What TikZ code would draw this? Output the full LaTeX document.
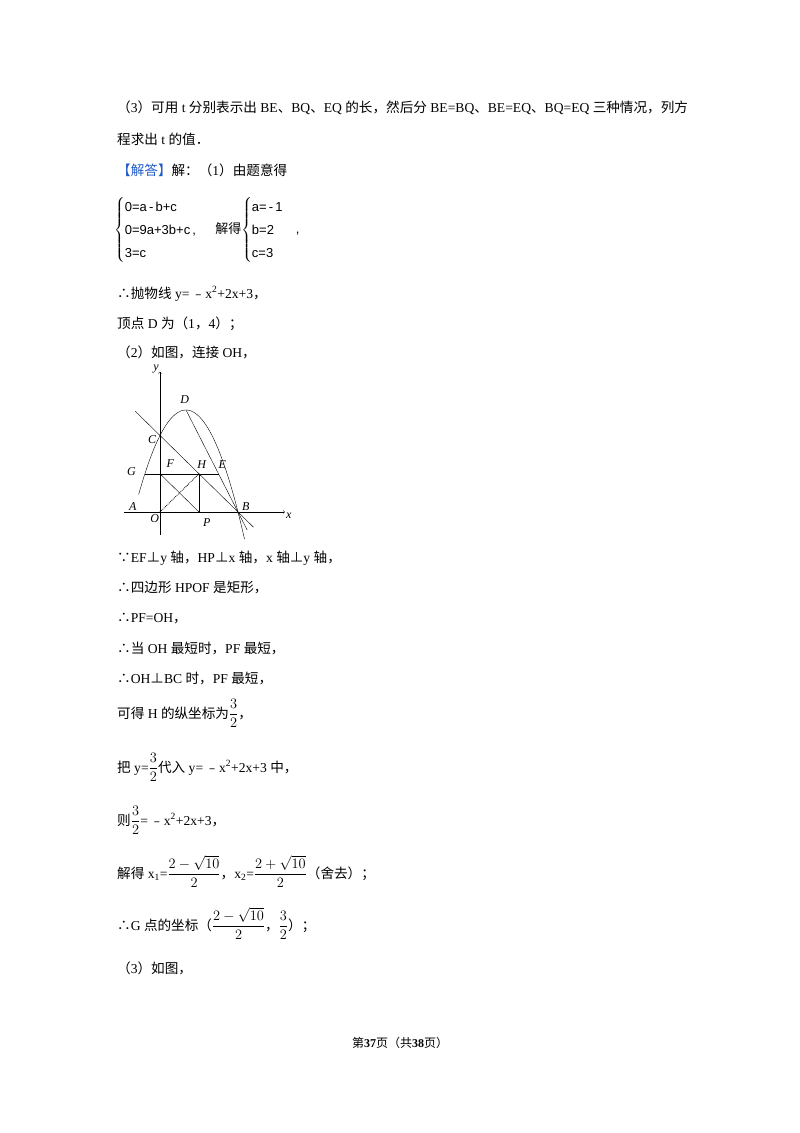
\documentclass[tikz,border=0pt]{standalone}
\usepackage{amsmath}
\usepackage{fontspec}
\setmainfont{Liberation Serif}
\newfontfamily\cjk{Noto Sans CJK SC}
\newfontfamily\sfl{Liberation Sans}
\newcommand{\zh}[1]{{\cjk #1}}
\begin{document}
\begin{tikzpicture}[x=1pt,y=-1pt,
  txt/.style={anchor=base west,inner sep=0pt,font=\fontsize{13.6}{16}\selectfont},
  lbl/.style={inner sep=1pt,font=\fontsize{12}{14}\selectfont\itshape}]
\useasboundingbox (0,0) rectangle (800,1133);
\node[txt] (l1) at (117,112) {\zh{（}3\zh{）可用} t \zh{分别表示出} BE\zh{、}BQ\zh{、}EQ \zh{的长，然后分} BE=BQ\zh{、}BE=EQ\zh{、}BQ=EQ \zh{三种情况，列方}};
\node[txt] (l2) at (117,144) {\zh{程求出} t \zh{的值．}};
\node[txt] (l3) at (117,175) {\textcolor[RGB]{30,90,200}{\zh{【解答】}}\zh{解：（}1\zh{）由题意得}};
\node[txt,anchor=west] (sys) at (114,230) {\sfl\fontsize{13}{15}\selectfont\renewcommand{\arraystretch}{1.55}$\left\{\begin{array}{@{}l@{}}\mbox{0=a\,-\,b+c}\\ \mbox{0=9a+3b+c\,,}\\ \mbox{3=c}\end{array}\right.$\hspace{18pt}\zh{解得}$\left\{\begin{array}{@{}l@{}}\mbox{a=\,-\,1}\\ \mbox{b=2}\\ \mbox{c=3}\end{array}\right.$\hspace{12pt},};
\node[txt] (l4) at (117,298) {\zh{∴抛物线} y=\,\zh{﹣}x\textsuperscript{2}+2x+3\zh{，}};
\node[txt] (l5) at (117,328) {\zh{顶点} D \zh{为（}1\zh{，}4\zh{）；}};
\node[txt] (l6) at (117,357) {\zh{（}2\zh{）如图，连接} OH\zh{，}};
\begin{scope}[x=26pt,y=25.5pt,shift={(160pt,-512pt)}]
  \coordinate (O) at (0,0); \coordinate (B) at (3,0); \coordinate (C) at (0,3);
  \coordinate (D) at (1,4); \coordinate (F) at (0,1.5); \coordinate (H) at (1.5,1.5);
  \coordinate (E) at (2.25,1.5); \coordinate (G) at (-0.58,1.5); \coordinate (P) at (1.5,0);
  \draw[->,thin] (-1.4,0) -- (4.8,0) coordinate (xe);
  \draw[->,thin] (0,-0.9) -- (0,5.5) coordinate (ye);
  \draw[thin] plot[domain=-0.82:3.25,samples=80,smooth] (\x,{-\x*\x+2*\x+3});
  \draw[thin] (-0.95,3.95) -- (C) -- (B) -- (3.6,-0.6);
  \draw[thin] (D) -- (B) -- (3.35,-0.7);
  \draw[thin] (G) -- (E);
  \draw[thin] (F) -- (P);
  \draw[thin] (H) -- (P);
  \draw[densely dotted,thick] (O) -- (H);
  \node[lbl] at (4.95,-0.15) {x};
  \node[lbl] at (-0.15,5.6) {y};
  \node[lbl] at (0.95,4.4) {D};
  \node[lbl] at (-0.3,2.85) {C};
  \node[lbl] at (0.4,1.9) {F};
  \node[lbl] at (1.6,1.85) {H};
  \node[lbl] at (2.4,1.85) {E};
  \node[lbl] at (-1.1,1.6) {G};
  \node[lbl] at (-1.05,0.2) {A};
  \node[lbl] at (-0.2,-0.25) {O};
  \node[lbl] at (3.3,0.2) {B};
  \node[lbl] at (1.8,-0.4) {P};
\end{scope}
\node[txt] (l7) at (117,562) {\zh{∵}EF\zh{⊥}y \zh{轴，}HP\zh{⊥}x \zh{轴，}x \zh{轴⊥}y \zh{轴，}};
\node[txt] (l8) at (117,592) {\zh{∴四边形} HPOF \zh{是矩形，}};
\node[txt] (l9) at (117,622) {\zh{∴}PF=OH\zh{，}};
\node[txt] (l10) at (117,653) {\zh{∴当} OH \zh{最短时，}PF \zh{最短，}};
\node[txt] (l11) at (117,683) {\zh{∴}OH\zh{⊥}BC \zh{时，}PF \zh{最短，}};
\node[txt] (l12) at (117,718) {\zh{可得} H \zh{的纵坐标为}$\dfrac{3}{2}$\zh{，}};
\node[txt] (l13) at (117,772) {\zh{把} y=$\dfrac{3}{2}$\zh{代入} y=\,\zh{﹣}x\textsuperscript{2}+2x+3 \zh{中，}};
\node[txt] (l14) at (117,825) {\zh{则}$\dfrac{3}{2}$=\,\zh{﹣}x\textsuperscript{2}+2x+3\zh{，}};
\node[txt] (l15) at (117,878) {\zh{解得} x\textsubscript{1}=$\dfrac{2-\sqrt{10}}{2}$\zh{，}x\textsubscript{2}=$\dfrac{2+\sqrt{10}}{2}$\zh{（舍去）；}};
\node[txt] (l16) at (117,930) {\zh{∴}G \zh{点的坐标（}$\dfrac{2-\sqrt{10}}{2}$\zh{，}$\dfrac{3}{2}$\zh{）；}};
\node[txt] (l17) at (117,973) {\zh{（}3\zh{）如图，}};
\node[txt,anchor=base,font=\fontsize{12}{14}\selectfont] (foot) at (400,1047) {\zh{第}\textbf{37}\zh{页（共}\textbf{38}\zh{页）}};
\end{tikzpicture}
\end{document}
